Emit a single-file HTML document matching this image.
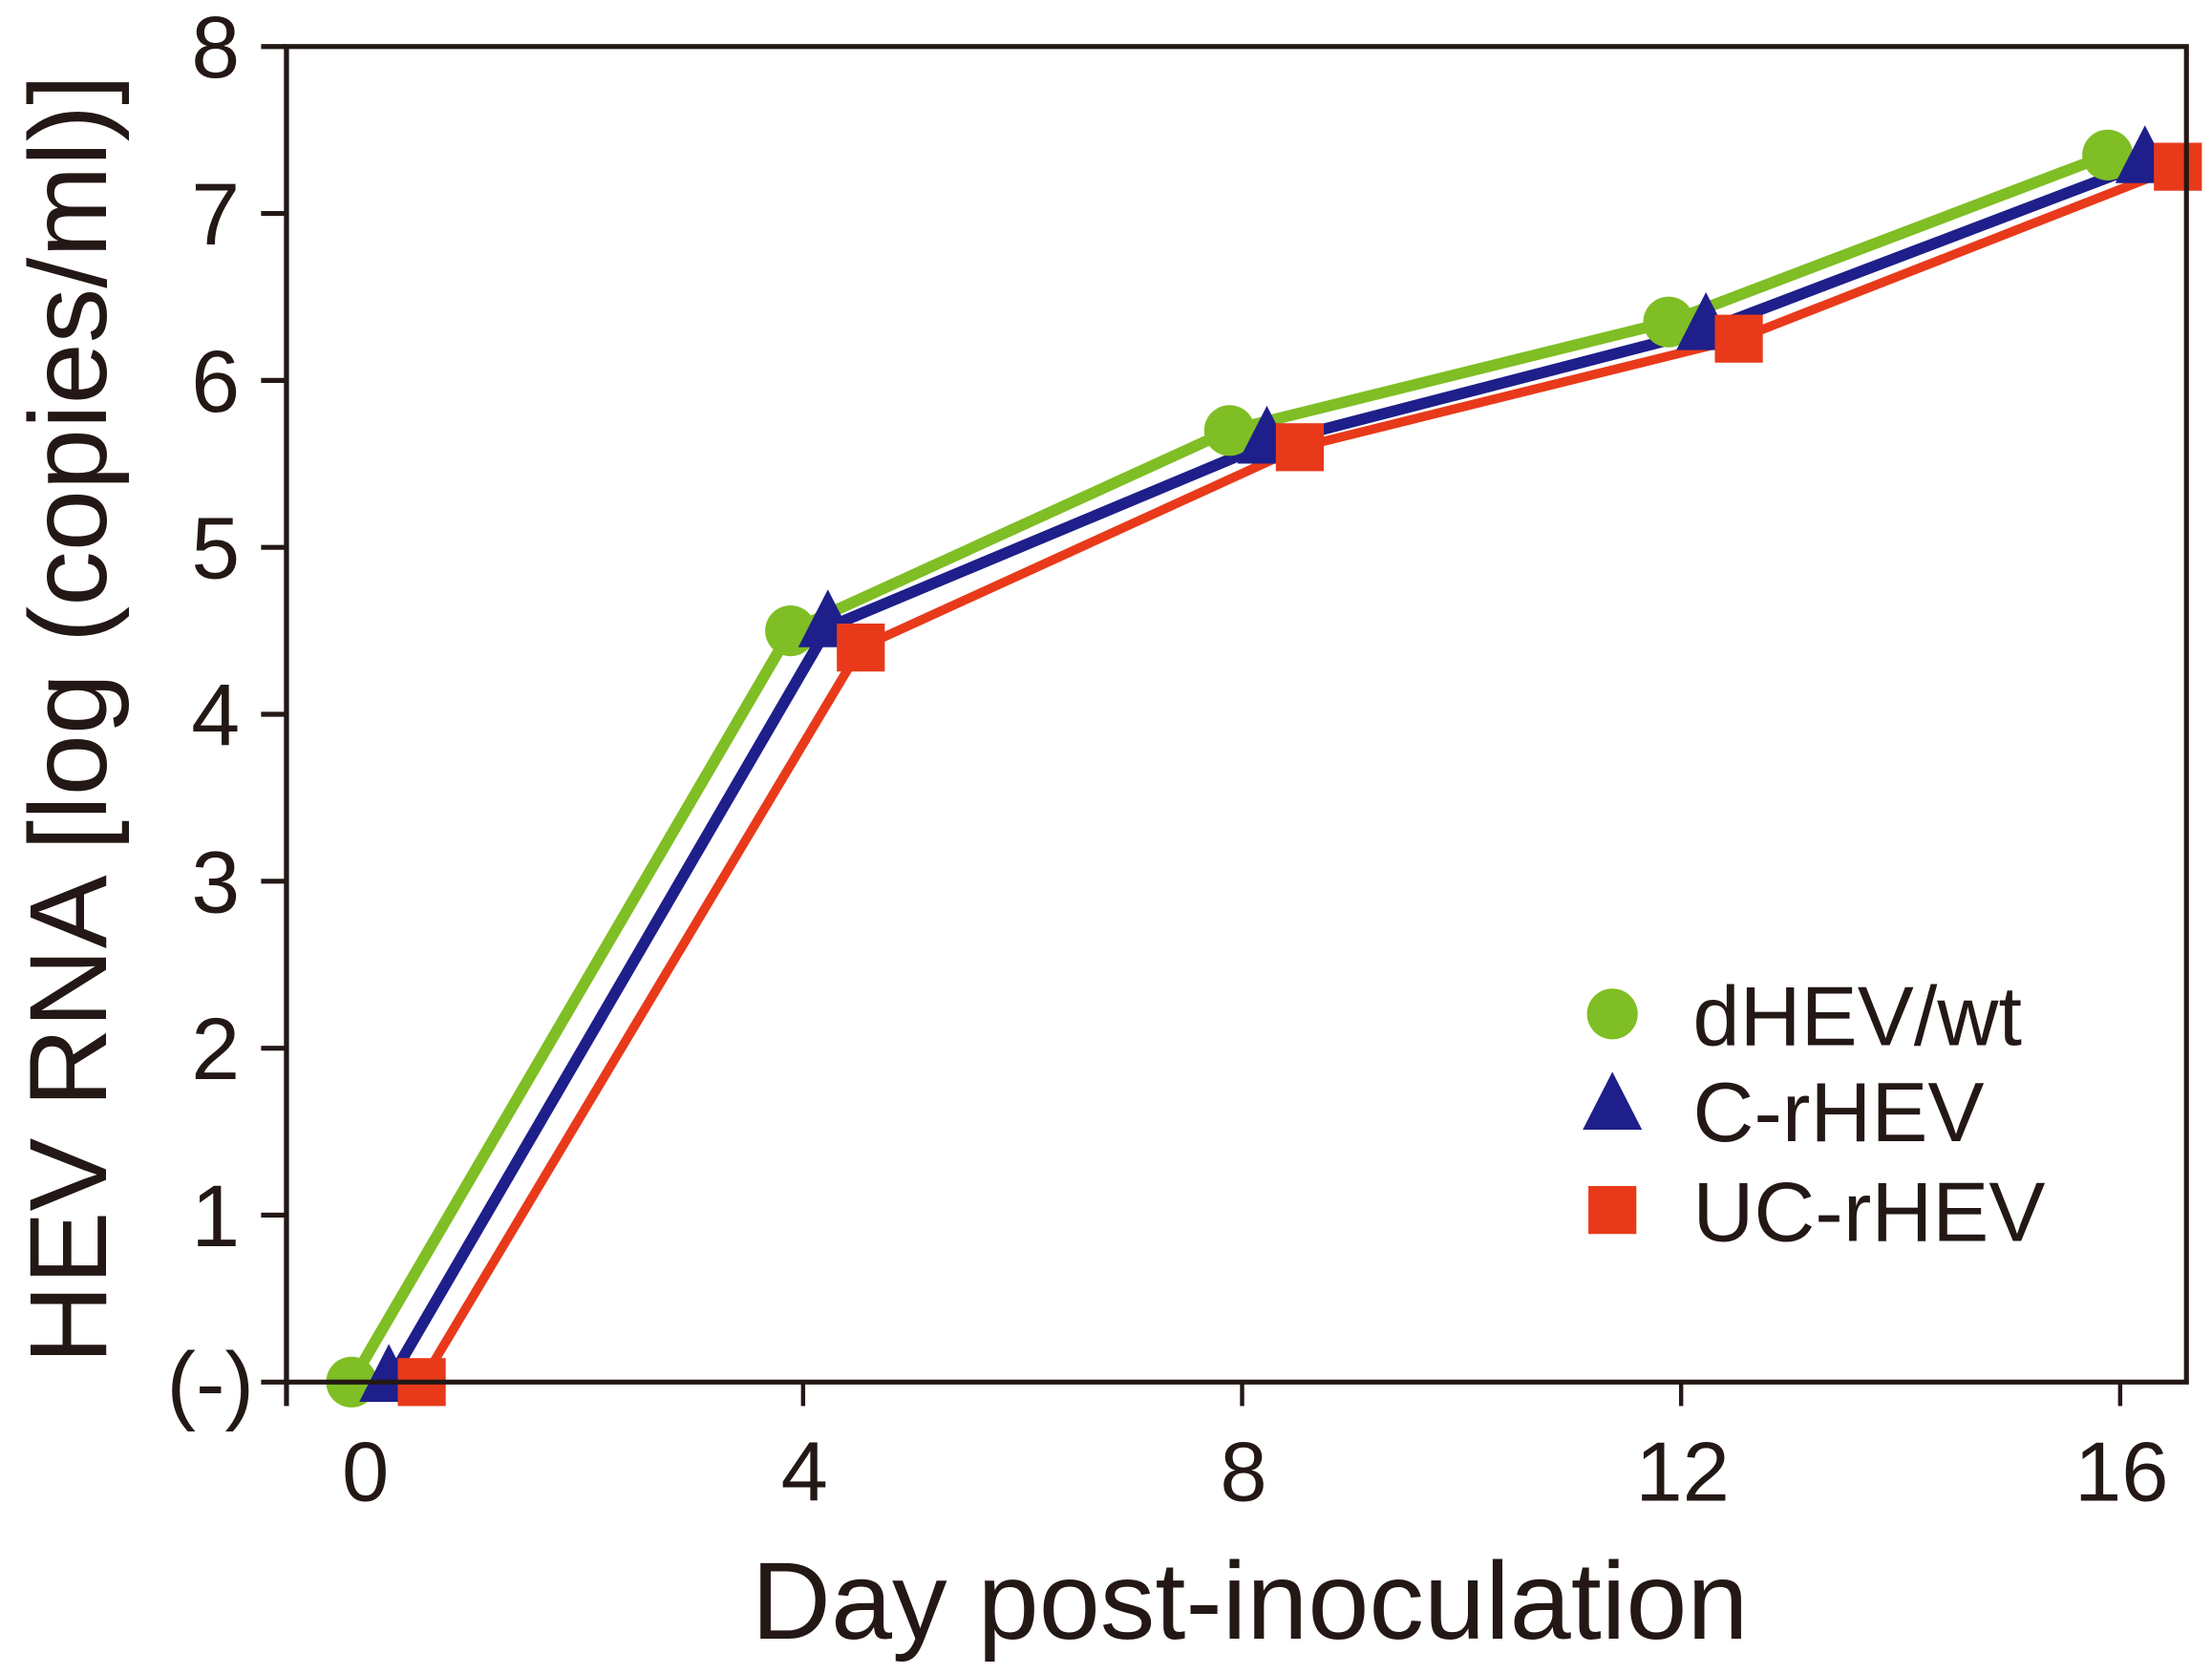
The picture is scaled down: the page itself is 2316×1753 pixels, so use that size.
<!DOCTYPE html>
<html><head><meta charset="utf-8"><style>
html,body{margin:0;padding:0;background:#fff;}
svg{display:block;}
text{font-family:"Liberation Sans",Arial,sans-serif;fill:#231815;}
</style></head><body>
<svg id="chart" width="2316" height="1753" viewBox="0 0 1568 1187" xmlns="http://www.w3.org/2000/svg">
<rect x="0" y="0" width="1568" height="1187" fill="#fff"/>
<g id="series"></g>
<g id="axes"></g>
<g id="legend"></g>
</svg>
<script>
const days = [0, 4, 8, 12, 16];
const dhevWt = [0, 4.5, 5.7, 6.35, 7.35];
const cRhev = [0, 4.52, 5.62, 6.3, 7.3];
const ucRhev = [0, 4.4, 5.6, 6.25, 7.28];
const seriesNames = ["dHEV/wt", "C-rHEV", "UC-rHEV"];
const xTickLabels = ["0", "4", "8", "12", "16"];
const yTickValues = [0, 1, 2, 3, 4, 5, 6, 7, 8];
const yTickLabels = ["(-)", "1", "2", "3", "4", "5", "6", "7", "8"];

const NS = "http://www.w3.org/2000/svg";
const X0 = 260, XPD = (1505 - 260) / 16;
const Y0 = 980, YPU = (980 - 33) / 8;
function xs(d){ return X0 + d * XPD; }
function ys(v){ return Y0 - v * YPU; }
function mk(tag, attrs, parent){
  const e = document.createElementNS(NS, tag);
  for (const k in attrs) e.setAttribute(k, attrs[k]);
  parent.appendChild(e);
  return e;
}
const axes = document.getElementById('axes');
const series = document.getElementById('series');
const legend = document.getElementById('legend');
const AX = "#231815";

let fr = mk('rect', {x:203, y:33, width:1347, height:947, fill:'none', stroke:AX, 'stroke-width':3.5}, axes);


let yl = mk('line', {x1:203, y1:33, x2:203, y2:997, stroke:AX, 'stroke-width':3.5}, axes);



yTickValues.forEach((v, i) => {
  const y = ys(v);
  const t = mk('line', {x1:185, y1:y, x2:203, y2:y, stroke:AX, 'stroke-width':3.5}, axes);
  
  
  const lb = mk('text', {x:v === 0 ? 180 : 170, y:y + 22, 'font-size':62, 'text-anchor':'end'}, axes);
  lb.textContent = yTickLabels[i];
  
  
});
days.forEach((d, i) => {
  const x = xs(d) - 2;
  if (i > 0) {
    const t = mk('line', {x1:x, y1:980, x2:x, y2:997, stroke:AX, 'stroke-width':3}, axes);
    
    
  }
  const lb = mk('text', {x:xs(d) - 1, y:1064, 'font-size':60, 'text-anchor':'middle'}, axes);
  lb.textContent = xTickLabels[i];
  
  
});
let xt = mk('text', {x:886, y:1162, 'font-size':78, 'text-anchor':'middle'}, axes);
xt.textContent = "Day post-inoculation";


let yt = mk('text', {x:0, y:0, 'font-size':78, 'text-anchor':'middle', transform:'translate(75,510) rotate(-90)'}, axes);
yt.textContent = "HEV RNA [log (copies/ml)]";



const defs = [
  {vals:dhevWt, off:-0.14, color:'#7fbe24', shape:'circle', name:'dhev-wt', w:8},
  {vals:cRhev, off:0.2, color:'#1e1f8a', shape:'tri', name:'c-rhev', w:8},
  {vals:ucRhev, off:0.5, color:'#e83a1a', shape:'sq', name:'uc-rhev', w:6.5}
];
function marker(shape, cx, cy, color, parent){
  if (shape === 'circle') return mk('circle', {cx:cx, cy:cy, r:18, fill:color}, parent);
  if (shape === 'tri') return mk('polygon', {points:`${cx},${cy-27} ${cx-21},${cy+14} ${cx+21},${cy+14}`, fill:color}, parent);
  return mk('rect', {x:cx-17, y:cy-17, width:34, height:34, fill:color}, parent);
}
defs.forEach(s => {
  const g = mk('g', {}, series);
  
  
  const pts = days.map((d, i) => xs(d + s.off) + ',' + ys(s.vals[i])).join(' ');
  const pl = mk('polyline', {points:pts, fill:'none', stroke:s.color, 'stroke-width':s.w, 'stroke-linejoin':'round'}, g);
  
  
});
defs.forEach(s => {
  days.forEach((d, i) => {
    const m = marker(s.shape, xs(d + s.off), ys(s.vals[i]), s.color, series);
    
    
  });
});
const legY = [719, 787, 858];
defs.forEach((s, i) => {
  const m = marker(s.shape, 1143, legY[i], s.color, legend);
  
  
  const t = mk('text', {x:1200, y:legY[i] + 22, 'font-size':60}, legend);
  t.textContent = seriesNames[i];
  
  
});
</script>
</body></html>
